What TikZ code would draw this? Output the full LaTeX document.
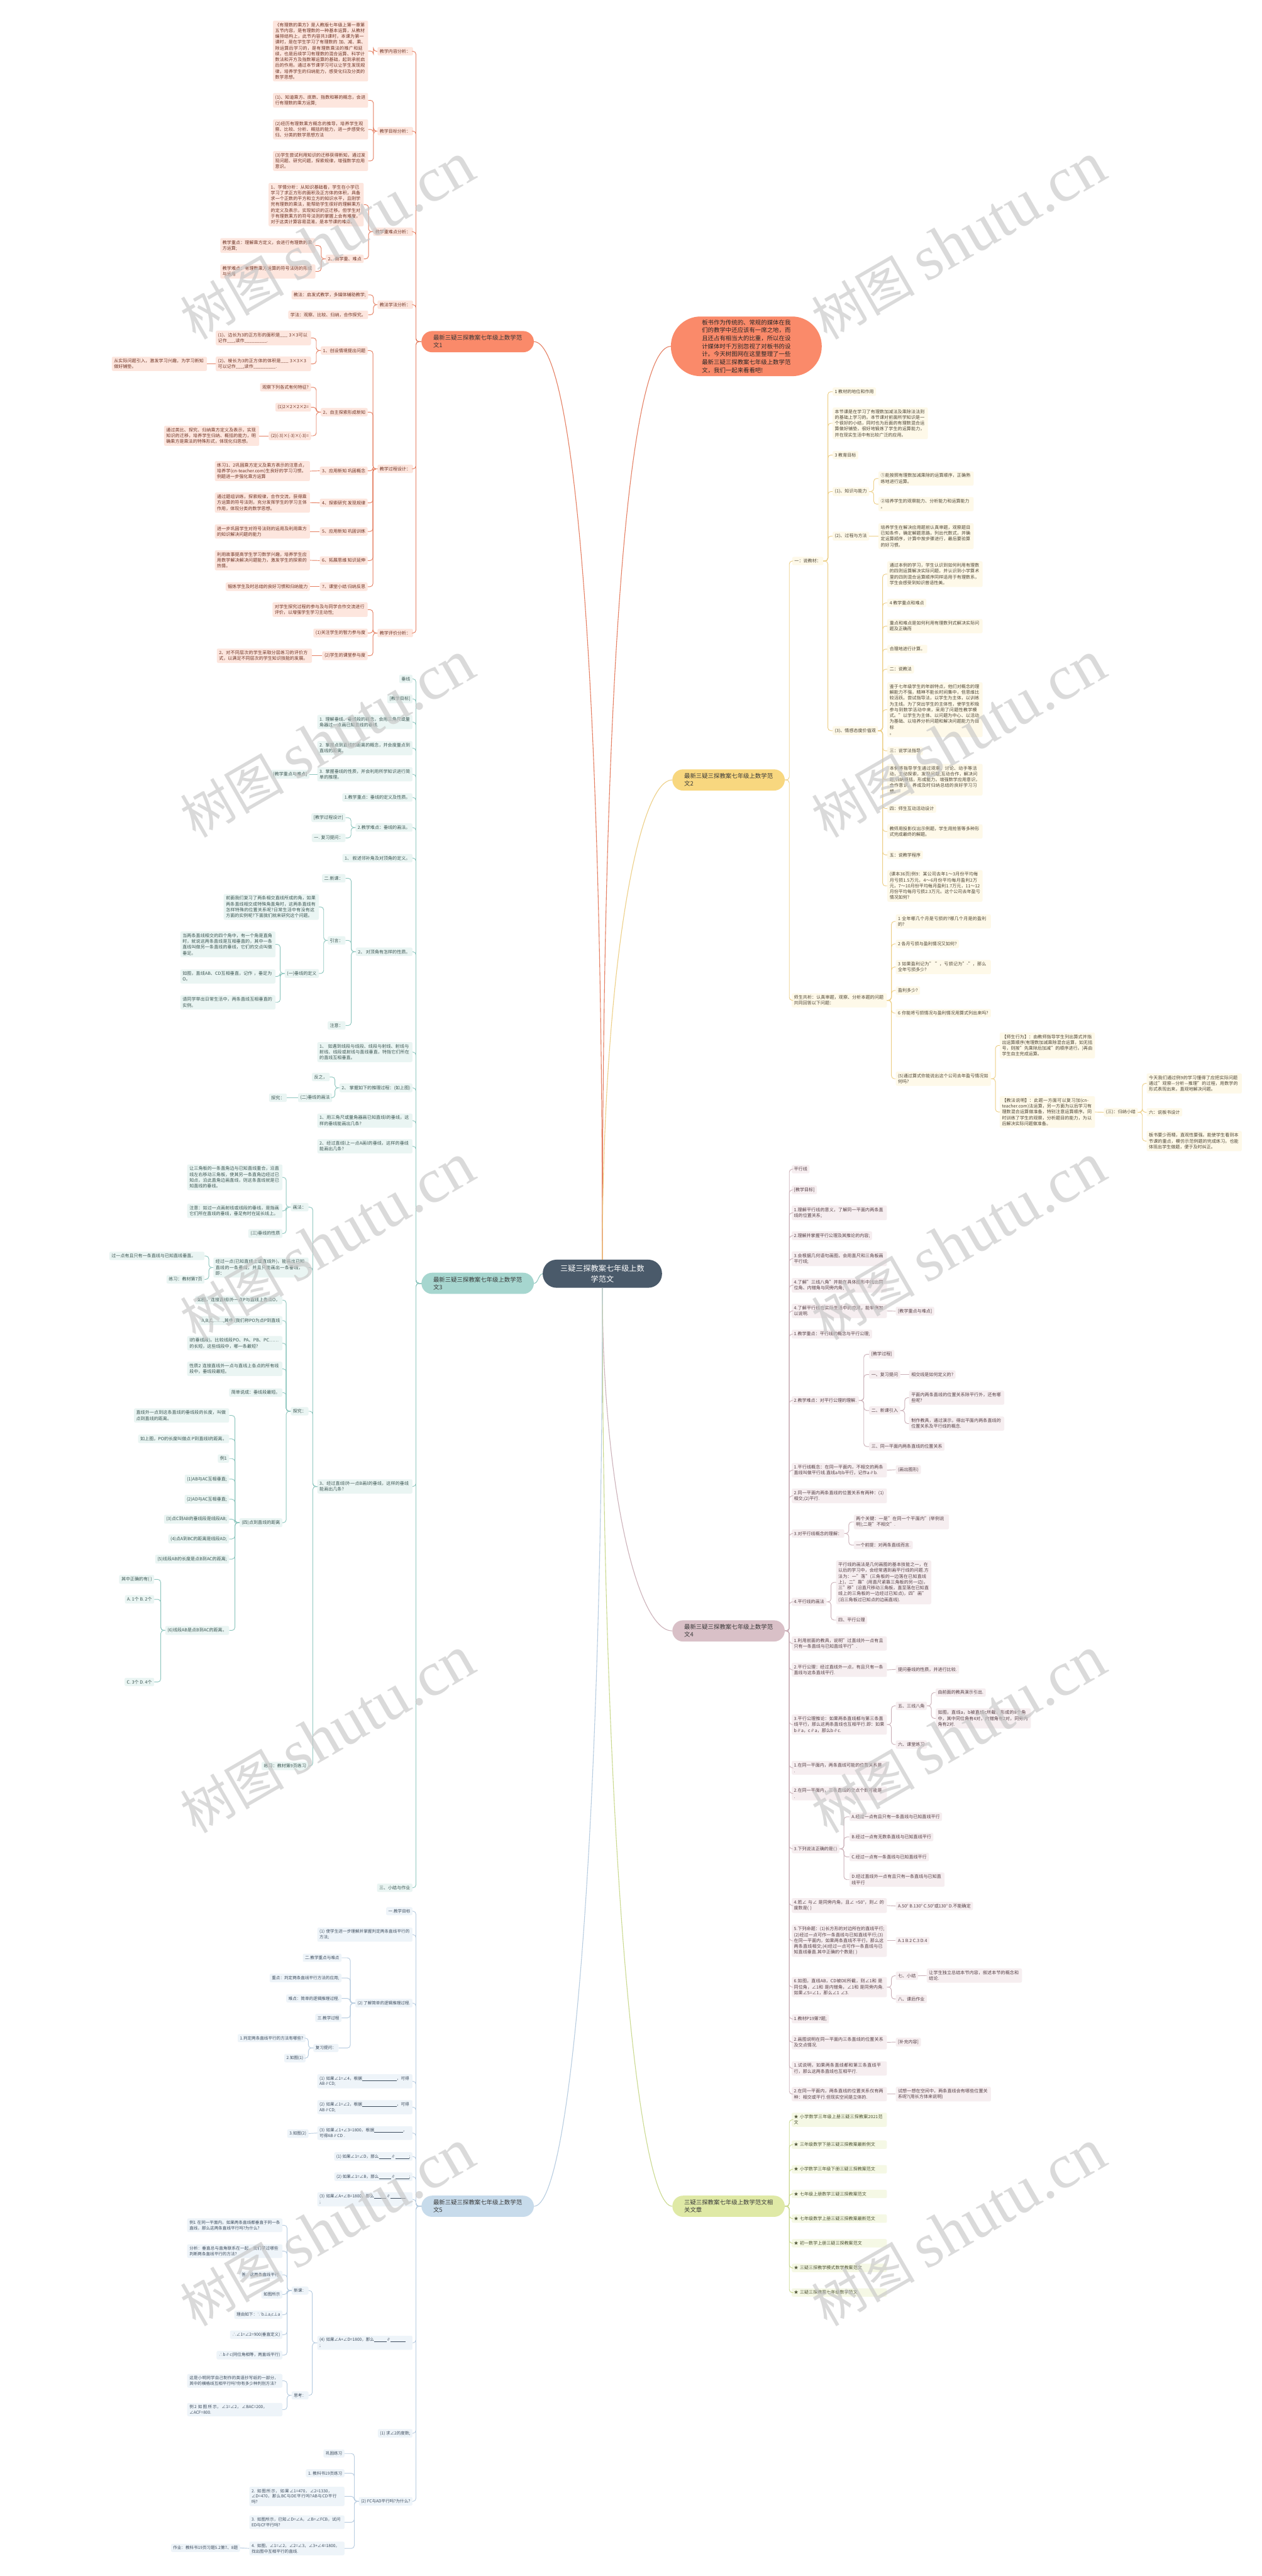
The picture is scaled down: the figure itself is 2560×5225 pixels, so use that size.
\documentclass[tikz,border=0pt]{standalone}
\usepackage{fontspec}
\setmainfont{Noto Sans CJK SC}
\newfontfamily\wmlat{Liberation Serif}
\XeTeXlinebreaklocale "zh"
\XeTeXlinebreakskip=0pt plus 1pt
\newcommand{\blk}[1]{\rule[-1.2pt]{#1pt}{0.5pt}}

\definecolor{rootc}{HTML}{4A5A6A}
\definecolor{omain}{HTML}{FA8A6A}
\definecolor{ofill}{HTML}{FDE6DE}
\definecolor{oline}{HTML}{E57F62}
\definecolor{otext}{HTML}{6E3324}
\definecolor{ymain}{HTML}{F8D77F}
\definecolor{yfill}{HTML}{FEF9E9}
\definecolor{yline}{HTML}{EDCF86}
\definecolor{ytext}{HTML}{4D4535}
\definecolor{tmain}{HTML}{A6D6CF}
\definecolor{tfill}{HTML}{EAF5F3}
\definecolor{tline}{HTML}{8FC7BF}
\definecolor{ttext}{HTML}{3C5652}
\definecolor{pmain}{HTML}{D9C0C7}
\definecolor{pfill}{HTML}{F6EEF0}
\definecolor{pline}{HTML}{CCB1B9}
\definecolor{ptext}{HTML}{553F45}
\definecolor{bmain}{HTML}{C7DBEB}
\definecolor{bfill}{HTML}{EEF4F9}
\definecolor{bline}{HTML}{B7CCE0}
\definecolor{btext}{HTML}{3E4D5E}
\definecolor{gmain}{HTML}{DFE9A6}
\definecolor{gfill}{HTML}{F5F8E5}
\definecolor{gline}{HTML}{CAD98F}
\definecolor{gtext}{HTML}{4A5030}

\tikzset{
  lf/.style={rounded corners=3pt, align=left, inner xsep=4.5pt, inner ysep=4.3pt, font=\fontsize{9}{11.8}\selectfont},
  wd/.style={text width=184pt},
  lft/.style={anchor=east},
  rgt/.style={anchor=west},
  oleaf/.style={lf, fill=ofill, text=otext},
  yleaf/.style={lf, fill=yfill, text=ytext},
  tleaf/.style={lf, fill=tfill, text=ttext},
  pleaf/.style={lf, fill=pfill, text=ptext},
  bleaf/.style={lf, fill=bfill, text=btext, font=\fontsize{8.4}{11.4}\selectfont},
  gleaf/.style={lf, fill=gfill, text=gtext},
  mnode/.style={rounded corners=21.5pt, minimum width=228pt, minimum height=43pt, inner xsep=0pt, align=left, font=\fontsize{12}{15.4}\selectfont, text=black!78},
  lnk/.style={line width=1.2pt, rounded corners=6pt},
  olink/.style={lnk, draw=oline},
  ylink/.style={lnk, draw=yline},
  tlink/.style={lnk, draw=tline},
  plink/.style={lnk, draw=pline},
  blink/.style={lnk, draw=bline},
  glink/.style={lnk, draw=gline},
  wm/.style={rotate=30, text=black!22, opacity=0.65, font=\fontsize{105}{105}\selectfont},
}

\begin{document}
\begin{tikzpicture}[x=1pt,y=-1pt]
\fill[white] (0,0) rectangle (2560,5225);
\useasboundingbox (0,0) rectangle (2560,5225);

% centre and intro
\node[fill=rootc, text=white, rounded corners=28pt, minimum width=242pt, minimum height=57pt, align=center, font=\fontsize{15.5}{21}\selectfont] (root) at (1222,2583.5) {三疑三探教案七年级上数\\学范文};
\node[fill=omain, text=black!85, rounded corners=60pt, minimum width=306pt, minimum height=121pt, align=left, font=\fontsize{12}{16.1}\selectfont] (intro) at (1514,702.5) {板书作为传统的、常规的媒体在我\\们的教学中还应该有一席之地，而\\且还占有相当大的比重，所以在设\\计媒体时千万别忽视了对板书的设\\计。今天树图网在这里整理了一些\\最新三疑三探教案七年级上数学范\\文，我们一起来看看吧!};

% ---------------- branch 1
\node[mnode, fill=omain] (o) at (969,693) {最新三疑三探教案七年级上数学范\\文1};
\node[oleaf, lft] (o1) at (838,104) {教学内容分析：};
\node[oleaf, lft] (o2) at (838,266) {教学目标分析：};
\node[oleaf, lft] (o3) at (838,470) {教学重难点分析：};
\node[oleaf, lft] (o4) at (838,618) {教法学法分析：};
\node[oleaf, lft] (o5) at (838,951) {教学过程设计：};
\node[oleaf, lft] (o6) at (838,1284) {教学评价分析：};
\node[oleaf, lft, wd] (o1a) at (747,103.5) {《有理数的乘方》是人教版七年级上第一章第五节内容，是有理数的一种基本运算，从教材编排结构上，此节内容共3课时，本课为第一课时，是在学生学习了有理数的 加、减、乘、除运算后学习的，是有理数乘法的推广和延续，也是后续学习有理数的混合运算、科学计数法和开方及指数幂运算的基础，起到承前启后的作用。通过本节课学习可以让学生发现规律，培养学生的归纳能力，感受化归及分类的数学思想。};
\node[oleaf, lft, wd] (o2a) at (747,203.5) {(1)、知道乘方、底数、指数和幂的概念，会进行有理数的乘方运算;};
\node[oleaf, lft, wd] (o2b) at (747,262.5) {(2)经历有理数乘方概念的推导，培养学生观察、比较、分析、概括的能力，进一步感受化归、分类的数学思想方法};
\node[oleaf, lft, wd] (o2c) at (747,326.5) {(3)学生尝试利用知识的迁移获得新知，通过发现问题、研究问题，探索规律，增强数学应用意识。};
\node[oleaf, lft, wd] (o3a) at (738,415) {1、学情分析：从知识基础看，学生在小学已学习了求正方形的面积及正方体的体积，具备求一个正数的平方和立方的知识水平，且刚学完有理数的乘法，能帮助学生很好的理解乘方的定义及表示，实现知识的正迁移。但学生对于有理数乘方的符号法则的掌握上会有难度，对于这类计算容易混淆，是本节课的难点。};
\node[oleaf, lft] (o3b) at (738,525) {2、教学重、难点};
\node[oleaf, lft, wd] (o3b1) at (640,498) {教学重点：理解乘方定义，会进行有理数的乘方运算;};
\node[oleaf, lft, wd] (o3b2) at (640,550.5) {教学难点：有理数乘方运算的符号法则的形成与运用};
\node[oleaf, lft] (o4a) at (747,598) {教法：启发式教学，多媒体辅助教学;};
\node[oleaf, lft] (o4b) at (747,638.5) {学法：观察、比较、归纳，合作探究。};
\node[oleaf, lft] (o5a) at (746,711) {1、创设情境提出问题};
\node[oleaf, lft, wd] (o5a1) at (631,685.5) {(1)、边长为3的正方形的面积是\_\_\_ 3×3可以记作\_\_\_,读作\_\_\_\_\_\_\_\_\_.};
\node[oleaf, lft, wd] (o5a2) at (631,738) {(2)、棱长为3的正方体的体积是\_\_\_ 3×3×3可以记作\_\_\_,读作\_\_\_\_\_\_\_\_\_.};
\node[oleaf, lft, wd] (o5a3) at (420,738) {从实际问题引入，激发学习兴趣，为学习新知做好铺垫。};
\node[oleaf, lft] (o5b) at (746,836) {2、自主探索形成新知};
\node[oleaf, lft] (o5b1) at (631,785.5) {观察下列各式有何特征?};
\node[oleaf, lft] (o5b2) at (631,826) {(1)2×2×2×2=};
\node[oleaf, lft] (o5b3) at (631,884) {(2)(-3)×(-3)×(-3)=};
\node[oleaf, lft, wd] (o5b4) at (526,884) {通过类比、探究、归纳乘方定义及表示，实现知识的迁移，培养学生归纳、概括的能力，明确乘方是乘法的特殊形式，体现化归思想。};
\node[oleaf, lft] (o5c) at (746,955) {3、应用新知 巩固概念};
\node[oleaf, lft, wd] (o5c1) at (629,955.5) {练习1、2巩固乘方定义及乘方表示的注意点，培养学(cn-teacher.com)生良好的学习习惯。例题进一步强化乘方运算};
\node[oleaf, lft] (o5d) at (746,1020) {4、探索研究 发现规律};
\node[oleaf, lft, wd] (o5d1) at (629,1019.5) {通过题组训练，探索规律，合作交流，获得乘方运算的符号法则，充分发挥学生的学习主体作用，体现分类的数学思想。};
\node[oleaf, lft] (o5e) at (746,1078) {5、应用新知 巩固训练};
\node[oleaf, lft, wd] (o5e1) at (629,1078) {进一步巩固学生对符号法则的运用及利用乘方的知识解决问题的能力};
\node[oleaf, lft] (o5f) at (746,1137) {6、拓展思维 知识延伸};
\node[oleaf, lft, wd] (o5f1) at (629,1136.5) {利用故事提高学生学习数学兴趣，培养学生应用数学解决解决问题能力，激发学生的探索的热情。};
\node[oleaf, lft] (o5g) at (746,1190) {7、课堂小结 归纳反思};
\node[oleaf, lft] (o5g1) at (629,1190) {锻炼学生及时总结的良好习惯和归纳能力};
\node[oleaf, lft, wd] (o6a) at (746,1236.5) {对学生探究过程的参与及与同学合作交流进行评价，以增强学生学习主动性;};
\node[oleaf, lft] (o6b) at (746,1284) {(1)关注学生的智力参与度};
\node[oleaf, lft] (o6c) at (746,1330) {(2)学生的课堂参与度};
\node[oleaf, lft, wd] (o6c1) at (633,1330) {2、对不同层次的学生采取分层练习的评价方式，以满足不同层次的学生知识技能的发展。};

\foreach \c in {o1,o2,o3,o4,o5,o6} \draw[olink] (o.west) -- ++(-11,0) |- (\c.east);
\draw[olink] (o1.west) -- ++(-8,0) |- (o1a.east);
\foreach \c in {o2a,o2b,o2c} \draw[olink] (o2.west) -- ++(-8,0) |- (\c.east);
\foreach \c in {o3a,o3b} \draw[olink] (o3.west) -- ++(-9,0) |- (\c.east);
\foreach \c in {o3b1,o3b2} \draw[olink] (o3b.west) -- ++(-9,0) |- (\c.east);
\foreach \c in {o4a,o4b} \draw[olink] (o4.west) -- ++(-8,0) |- (\c.east);
\foreach \c in {o5a,o5b,o5c,o5d,o5e,o5f,o5g} \draw[olink] (o5.west) -- ++(-9,0) |- (\c.east);
\foreach \c in {o5a1,o5a2} \draw[olink] (o5a.west) -- ++(-9,0) |- (\c.east);
\draw[olink] (o5a2.west) -- (o5a3.east);
\foreach \c in {o5b1,o5b2,o5b3} \draw[olink] (o5b.west) -- ++(-9,0) |- (\c.east);
\draw[olink] (o5b3.west) -- (o5b4.east);
\draw[olink] (o5c.west) -- (o5c1.east);
\draw[olink] (o5d.west) -- (o5d1.east);
\draw[olink] (o5e.west) -- (o5e1.east);
\draw[olink] (o5f.west) -- (o5f1.east);
\draw[olink] (o5g.west) -- (o5g1.east);
\foreach \c in {o6a,o6b,o6c} \draw[olink] (o6.west) -- ++(-9,0) |- (\c.east);
\draw[olink] (o6c.west) -- (o6c1.east);

% ---------------- branch 2
\node[mnode, fill=ymain] (y) at (1478,1582) {最新三疑三探教案七年级上数学范\\文2};
\node[yleaf, rgt] (y1) at (1607,1138) {一：说教材：};
\node[yleaf, rgt] (y1a) at (1689,794.5) {1 教材的地位和作用};
\node[yleaf, rgt, wd] (y1b) at (1689,858.5) {本节课是在学习了有理数加减法及乘除法法则的基础上学习的。本节课对前面所学知识是一个很好的小结，同时也为后面的有理数混合运算做好铺垫，很好地锻炼了学生的运算能力，并在现实生活中有比较广泛的应用。};
\node[yleaf, rgt] (y1c) at (1689,923) {3 教育目标};
\node[yleaf, rgt] (y1d) at (1689,997) {(1)、知识与能力};
\node[yleaf, rgt, wd] (y1d1) at (1782,970.5) {①能按照有理数加减乘除的运算顺序，正确熟练地进行运算。};
\node[yleaf, rgt, wd] (y1d2) at (1782,1022.5) {②培养学生的观察能力、分析能力和运算能力\\。};
\node[yleaf, rgt] (y1e) at (1689,1087.5) {(2)、过程与方法};
\node[yleaf, rgt, wd] (y1e1) at (1782,1087.5) {培养学生在解决应用题前认真审题，观察题目已知条件，确定解题思路，列出代数式，并确定运算顺序，计算中按步骤进行，最后要验算的好习惯。};
\node[yleaf, rgt] (y1f) at (1689,1482) {(3)、情感态度价值观};
\node[yleaf, rgt, wd] (y1f1) at (1800,1164.5) {通过本例的学习，学生认识到如何利用有理数的四则运算解决实际问题，并认识到小学算术里的四则混合运算顺序同样适用于有理数系，学生会感受到知识普适性美。};
\node[yleaf, rgt] (y1f2) at (1800,1223) {4 教学重点和难点};
\node[yleaf, rgt, wd] (y1f3) at (1800,1270) {重点和难点是如何利用有理数列式解决实际问题及正确而};
\node[yleaf, rgt] (y1f4) at (1800,1316.5) {合理地进行计算。};
\node[yleaf, rgt] (y1f5) at (1800,1357.5) {二：说教法};
\node[yleaf, rgt, wd] (y1f6) at (1800,1439.5) {鉴于七年级学生的年龄特点，他们对概念的理解能力不强，精神不能长时间集中，但思维比较活跃。尝试指导法，以学生为主体，以训练为主线。为了突出学生的主体性，使学生积极参与到数学活动中来，采用了问题性教学模式。"以学生为主体、以问题为中心、以活动为基础、以培养分析问题和解决问题能力为目标\\。};
\node[yleaf, rgt] (y1f7) at (1800,1523) {三：说学法指导};
\node[yleaf, rgt, wd] (y1f8) at (1800,1581.5) {本例将指导学生通过观察、讨论、动手等活动，主动探索，发现问题;互动合作，解决问题;归纳概括，形成能力。增强数学应用意识，合作意识，养成及时归纳总结的良好学习习惯。};
\node[yleaf, rgt] (y1f9) at (1800,1640) {四：师生互动活动设计};
\node[yleaf, rgt, wd] (y1f10) at (1800,1686.5) {教师用投影仪出示例题，学生用抢答等多种形式完成最终的解题。};
\node[yleaf, rgt] (y1f11) at (1800,1734) {五：说教学程序};
\node[yleaf, rgt, wd] (y1f12) at (1800,1797) {(课本36页)例9：某公司去年1～3月份平均每月亏损1.5万元，4～6月份平均每月盈利2万元，7～10月份平均每月盈利1.7万元，11～12月份平均每月亏损2.3万元。这个公司去年盈亏情况如何?};
\node[yleaf, rgt, wd] (y2) at (1606,2029) {师生共析：认真审题，观察、分析本题的问题共同回答以下问题：};
\node[yleaf, rgt, wd] (y2a) at (1817,1869) {1 全年哪几个月是亏损的?哪几个月是的盈利的?};
\node[yleaf, rgt] (y2b) at (1817,1914.5) {2 各月亏损与盈利情况又如何?};
\node[yleaf, rgt, wd] (y2c) at (1817,1961.5) {3 如果盈利记为" "，亏损记为"-"，那么全年亏损多少?};
\node[yleaf, rgt] (y2d) at (1817,2009) {盈利多少?};
\node[yleaf, rgt, wd] (y2e) at (1817,2055) {6 你能将亏损情况与盈利情况用算式列出来吗?};
\node[yleaf, rgt, wd] (y2f) at (1817,2188) {(5)通过算式你能说出这个公司去年盈亏情况如何吗?};
\node[yleaf, rgt, wd] (y2f1) at (2028,2120.5) {【师生行为】：由教师指导学生列出算式并指出运算顺序(有理数加减乘除混合运算，如无括号，则按"先乘除后加减"的顺序进行。)再由学生自主完成运算。};
\node[yleaf, rgt, wd] (y2f2) at (2028,2255.5) {【教法说明】：此题一方面可以复习加(cn-teacher.com)法运算，另一方面为以后学习有理数混合运算做准备，特别注意运算顺序。同时训练了学生的观察，分析题目的能力，为以后解决实际问题做准备。};
\node[yleaf, rgt] (y2g) at (2239,2256) {(三)：归纳小结};
\node[yleaf, rgt, wd] (y2g1) at (2326,2197.5) {今天我们通过例9的学习懂得了应把实际问题通过"观察—分析—推理"的过程，用数学的形式表现出来，直观地解决问题。};
\node[yleaf, rgt] (y2g2) at (2326,2256) {六：说板书设计};
\node[yleaf, rgt, wd] (y2g3) at (2326,2314.5) {板书要少而精，直观性要强。能使学生看到本节课的重点，模仿示范例题的完成练习。也能体现出学生做题，便于及时纠正。};

\foreach \c in {y1,y2} \draw[ylink] (y.east) -- ++(9,0) |- (\c.west);
\foreach \c in {y1a,y1b,y1c,y1d,y1e,y1f} \draw[ylink] (y1.east) -- ++(9,0) |- (\c.west);
\foreach \c in {y1d1,y1d2} \draw[ylink] (y1d.east) -- ++(9,0) |- (\c.west);
\draw[ylink] (y1e.east) -- (y1e1.west);
\foreach \c in {y1f1,y1f2,y1f3,y1f4,y1f5,y1f6,y1f7,y1f8,y1f9,y1f10,y1f11,y1f12} \draw[ylink] (y1f.east) -- ++(9,0) |- (\c.west);
\foreach \c in {y2a,y2b,y2c,y2d,y2e,y2f} \draw[ylink] (y2.east) -- ++(9,0) |- (\c.west);
\foreach \c in {y2f1,y2f2} \draw[ylink] (y2f.east) -- ++(9,0) |- (\c.west);
\draw[ylink] (y2f2.east) -- (y2g.west);
\foreach \c in {y2g1,y2g2,y2g3} \draw[ylink] (y2g.east) -- ++(9,0) |- (\c.west);

% ---------------- branch 3
\node[mnode, fill=tmain] (t) at (969,2603) {最新三疑三探教案七年级上数学范\\文3};
\node[tleaf, lft] (t1) at (837,1377) {垂线};
\node[tleaf, lft] (t2) at (837,1417.5) {[教学目标]};
\node[tleaf, lft, wd] (t3) at (837,1464.5) {1. 理解垂线、垂线段的概念，会用三角尺或量角器过一点画已知直线的垂线.};
\node[tleaf, lft, wd] (t4) at (837,1517.5) {2. 掌握点到直线的距离的概念，并会度量点到直线的距离。};
\node[tleaf, lft, wd] (t5) at (837,1570.5) {3. 掌握垂线的性质，并会利用所学知识进行简单的推理。};
\node[tleaf, lft] (t5a) at (628,1570.5) {[教学重点与难点]};
\node[tleaf, lft] (t6) at (837,1617.5) {1.教学重点：垂线的定义及性质。};
\node[tleaf, lft] (t7) at (837,1678.5) {2.教学难点：垂线的画法。};
\node[tleaf, lft] (t7a) at (701,1658.5) {[教学过程设计]};
\node[tleaf, lft] (t7b) at (701,1699.5) {一. 复习提问：};
\node[tleaf, lft] (t8) at (837,1740.5) {1、 叙述邻补角及对顶角的定义。};
\node[tleaf, lft] (t9) at (837,1930.5) {2、 对顶角有怎样的性质。};
\node[tleaf, lft] (t9a) at (701,1781.5) {二.新课：};
\node[tleaf, lft] (t9b) at (701,1907.5) {引言：};
\node[tleaf, lft, wd] (t9b1) at (647,1839.5) {前面我们复习了两条相交直线所成的角，如果两条直线相交成特殊角直角时，这两条直线有怎样特殊的位置关系呢?日常生活中有没有这方面的实例呢?下面我们就来研究这个问题。};
\node[tleaf, lft] (t9b2) at (647,1974.5) {(一)垂线的定义};
\node[tleaf, lft, wd] (t9b2a) at (559,1915.5) {当两条直线相交的四个角中，有一个角是直角时，就说这两条直线是互相垂直的，其中一条直线叫做另一条直线的垂线，它们的交点叫做垂足。};
\node[tleaf, lft, wd] (t9b2b) at (559,1980.5) {如图，直线AB、CD互相垂直，记作 ，垂足为O。};
\node[tleaf, lft, wd] (t9b2c) at (559,2033) {请同学举出日常生活中，两条直线互相垂直的实例。};
\node[tleaf, lft] (t9c) at (701,2080) {注意：};
\node[tleaf, lft, wd] (t10) at (837,2134) {1、 如遇到线段与线段、线段与射线、射线与射线、线段或射线与直线垂直，特指它们所在的直线互相垂直。};
\node[tleaf, lft] (t11) at (837,2206.5) {2、 掌握如下的推理过程：(如上图)};
\node[tleaf, lft] (t11a) at (669,2184.5) {反之，};
\node[tleaf, lft] (t11b) at (674,2226.5) {(二)垂线的画法};
\node[tleaf, lft] (t11c) at (582,2226.5) {探究：};
\node[tleaf, lft, wd] (t12) at (837,2273) {1、用三角尺或量角器画已知直线l的垂线，这样的垂线能画出几条?};
\node[tleaf, lft, wd] (t13) at (837,2325) {2、经过直线l上一点A画l的垂线，这样的垂线能画出几条?};
\node[tleaf, lft, wd] (t14) at (837,3015) {3、经过直线l外一点B画l的垂线，这样的垂线能画出几条?};
\node[tleaf, lft] (t14a) at (626,2448.5) {画法：};
\node[tleaf, lft, wd] (t14a1) at (573,2388) {让三角板的一条直角边与已知直线重合，沿直线左右移动三角板，使其另一条直角边经过已知点，沿此直角边画直线，则这条直线就是已知直线的垂线。};
\node[tleaf, lft, wd] (t14a2) at (573,2456) {注意：如过一点画射线或线段的垂线，是指画它们所在直线的垂线，垂足有时在延长线上。};
\node[tleaf, lft] (t14a3) at (573,2502) {(三)垂线的性质};
\node[tleaf, lft, wd] (t14b) at (626,2571) {经过一点(已知直线上或直线外)，能画出已知直线的一条垂线，并且只能画出一条垂线，即：};
\node[tleaf, lft, wd] (t14b1) at (415,2547.5) {过一点有且只有一条直线与已知直线垂直。};
\node[tleaf, lft] (t14b2) at (415,2595) {练习：教材第7页};
\node[tleaf, lft] (t14c) at (626,2862.5) {探究：};
\node[tleaf, lft] (t14c1) at (573,2637) {如图，连接直线l外一点P与直线上各点O，};
\node[tleaf, lft] (t14c2) at (573,2678.5) {A,B,C,……,其中 (我们称PO为点P到直线};
\node[tleaf, lft, wd] (t14c3) at (573,2724.5) {l的垂线段)。比较线段PO、PA、PB、PC……的长短，这些线段中，哪一条最短?};
\node[tleaf, lft, wd] (t14c4) at (573,2776.5) {性质2 连接直线外一点与直线上各点的所有线段中，垂线段最短。};
\node[tleaf, lft] (t14c5) at (573,2824.5) {简单说成：垂线段最短。};
\node[tleaf, lft] (t14c6) at (573,3088.5) {(四)点到直线的距离};
\node[tleaf, lft, wd] (t14d1) at (465,2871) {直线外一点到这条直线的垂线段的长度，叫做点到直线的距离。};
\node[tleaf, lft] (t14d2) at (465,2918.5) {如上图，PO的长度叫做点 P到直线l的距离。};
\node[tleaf, lft] (t14d3) at (465,2958.5) {例1};
\node[tleaf, lft] (t14d4) at (465,3000) {(1)AB与AC互相垂直;};
\node[tleaf, lft] (t14d5) at (465,3041) {(2)AD与AC互相垂直;};
\node[tleaf, lft] (t14d6) at (465,3081.5) {(3)点C到AB的垂线段是线段AB;};
\node[tleaf, lft] (t14d7) at (465,3121.5) {(4)点A到BC的距离是线段AD;};
\node[tleaf, lft] (t14d8) at (465,3162.5) {(5)线段AB的长度是点B到AC的距离;};
\node[tleaf, lft] (t14d9) at (465,3307) {(6)线段AB是点B到AC的距离。};
\node[tleaf, lft] (t14e1) at (313,3203.5) {其中正确的有( )};
\node[tleaf, lft] (t14e2) at (313,3244) {A. 1个 B. 2个};
\node[tleaf, lft] (t14e3) at (313,3411.5) {C. 3个 D. 4个};
\node[tleaf, lft] (t14f) at (626,3582) {练习：教材第9页练习};
\node[tleaf, lft] (t15) at (837,3829) {三、小结与作业};

\foreach \c in {t1,t2,t3,t4,t5,t6,t7,t8,t9,t10,t11,t12,t13,t14,t15} \draw[tlink] (t.west) -- ++(-11,0) |- (\c.east);
\draw[tlink] (t5.west) -- (t5a.east);
\foreach \c in {t7a,t7b} \draw[tlink] (t7.west) -- ++(-9,0) |- (\c.east);
\foreach \c in {t9a,t9b,t9c} \draw[tlink] (t9.west) -- ++(-9,0) |- (\c.east);
\foreach \c in {t9b1,t9b2} \draw[tlink] (t9b.west) -- ++(-8,0) |- (\c.east);
\foreach \c in {t9b2a,t9b2b,t9b2c} \draw[tlink] (t9b2.west) -- ++(-9,0) |- (\c.east);
\foreach \c in {t11a,t11b} \draw[tlink] (t11.west) -- ++(-9,0) |- (\c.east);
\draw[tlink] (t11b.west) -- (t11c.east);
\foreach \c in {t14a,t14b,t14c,t14f} \draw[tlink] (t14.west) -- ++(-9,0) |- (\c.east);
\foreach \c in {t14a1,t14a2,t14a3} \draw[tlink] (t14a.west) -- ++(-9,0) |- (\c.east);
\foreach \c in {t14b1,t14b2} \draw[tlink] (t14b.west) -- ++(-9,0) |- (\c.east);
\foreach \c in {t14c1,t14c2,t14c3,t14c4,t14c5,t14c6} \draw[tlink] (t14c.west) -- ++(-9,0) |- (\c.east);
\foreach \c in {t14d1,t14d2,t14d3,t14d4,t14d5,t14d6,t14d7,t14d8,t14d9} \draw[tlink] (t14c6.west) -- ++(-9,0) |- (\c.east);
\foreach \c in {t14e1,t14e2,t14e3} \draw[tlink] (t14d9.west) -- ++(-9,0) |- (\c.east);

% ---------------- branch 4
\node[mnode, fill=pmain] (p) at (1478,3308) {最新三疑三探教案七年级上数学范\\文4};
\node[pleaf, rgt] (p1) at (1606,2371.5) {平行线};
\node[pleaf, rgt] (p2) at (1606,2413.5) {[教学目标]};
\node[pleaf, rgt, wd] (p3) at (1606,2460) {1.理解平行线的意义，了解同一平面内两条直线的位置关系;};
\node[pleaf, rgt] (p4) at (1606,2506.5) {2.理解并掌握平行公理及其推论的内容;};
\node[pleaf, rgt, wd] (p5) at (1606,2553) {3.会根据几何语句画图，会用直尺和三角板画平行线;};
\node[pleaf, rgt, wd] (p6) at (1606,2607) {4.了解"三线八角"并能在具体图形中找出同位角、内错角与同旁内角;};
\node[pleaf, rgt, wd] (p7) at (1606,2659) {4.了解平行线在实际生活中的应用，能举例加以说明.};
\node[pleaf, rgt] (p7a) at (1817,2659.5) {[教学重点与难点]};
\node[pleaf, rgt] (p8) at (1606,2706) {1.教学重点：平行线的概念与平行公理;};
\node[pleaf, rgt] (p9) at (1606,2840.5) {2.教学难点：对平行公理的理解.};
\node[pleaf, rgt] (p9a) at (1763,2747) {[教学过程]};
\node[pleaf, rgt] (p9b) at (1763,2788) {一、复习提问};
\node[pleaf, rgt] (p9b1) at (1844,2788) {相交线是如何定义的?};
\node[pleaf, rgt] (p9c) at (1763,2861) {二、新课引入};
\node[pleaf, rgt, wd] (p9c1) at (1844,2835) {平面内两条直线的位置关系除平行外，还有哪些呢?};
\node[pleaf, rgt, wd] (p9c2) at (1844,2887.5) {制作教具，通过演示，得出平面内两条直线的位置关系及平行线的概念.};
\node[pleaf, rgt] (p9d) at (1763,2934) {三、同一平面内两条直线的位置关系};
\node[pleaf, rgt, wd] (p10) at (1606,2982) {1.平行线概念：在同一平面内，不相交的两条直线叫做平行线.直线a与b平行，记作a∥b.};
\node[pleaf, rgt] (p10a) at (1817,2981) {(画出图形)};
\node[pleaf, rgt, wd] (p11) at (1606,3034) {2.同一平面内两条直线的位置关系有两种：(1)相交;(2)平行.};
\node[pleaf, rgt] (p12) at (1606,3110.5) {3.对平行线概念的理解：};
\node[pleaf, rgt, wd] (p12a) at (1732,3087) {两个关键：一是"在同一个平面内"(举例说明);二是"不相交".};
\node[pleaf, rgt] (p12b) at (1732,3134) {一个前提：对两条直线而言.};
\node[pleaf, rgt] (p13) at (1606,3249) {4.平行线的画法};
\node[pleaf, rgt, wd] (p13a) at (1696,3209.5) {平行线的画法是几何画图的基本技能之一，在以后的学习中，会经常遇到画平行线的问题.方法为：一"落"(三角板的一边落在已知直线上)，二"靠"(用直尺紧靠三角板的另一边)，三"移"(沿直尺移动三角板，直至落在已知直线上的三角板的一边经过已知点)，四"画"(沿三角板过已知点的边画直线).};
\node[pleaf, rgt] (p13b) at (1696,3286) {四、平行公理};
\node[pleaf, rgt, wd] (p14) at (1606,3333.5) {1.利用前面的教具，说明"过直线外一点有且只有一条直线与已知直线平行".};
\node[pleaf, rgt, wd] (p15) at (1606,3387) {2.平行公理：经过直线外一点，有且只有一条直线与这条直线平行.};
\node[pleaf, rgt] (p15a) at (1817,3386) {提问垂线的性质，并进行比较.};
\node[pleaf, rgt, wd] (p16) at (1606,3498) {3.平行公理推论：如果两条直线都与第三条直线平行，那么这两条直线也互相平行.即：如果b∥a，c∥a，那么b∥c.};
\node[pleaf, rgt] (p16a) at (1817,3460) {五、三线八角};
\node[pleaf, rgt] (p16a1) at (1898,3433) {由前面的教具演示引出.};
\node[pleaf, rgt, wd] (p16a2) at (1898,3485.5) {如图，直线a，b被直线c所截，形成的8个角中，其中同位角有4对，内错角有2对，同旁内角有2对.};
\node[pleaf, rgt] (p16b) at (1817,3538.5) {六、课堂练习};
\node[pleaf, rgt, wd] (p17) at (1606,3585.5) {1.在同一平面内，两条直线可能的位置关系是\\.};
\node[pleaf, rgt, wd] (p18) at (1606,3637.5) {2.在同一平面内，三条直线的交点个数可能是\\.};
\node[pleaf, rgt] (p19) at (1606,3750) {3.下列说法正确的是( )};
\node[pleaf, rgt] (p19a) at (1723,3685) {A.经过一点有且只有一条直线与已知直线平行};
\node[pleaf, rgt] (p19b) at (1723,3726) {B.经过一点有无数条直线与已知直线平行};
\node[pleaf, rgt] (p19c) at (1723,3766.5) {C.经过一点有一条直线与已知直线平行};
\node[pleaf, rgt, wd] (p19d) at (1723,3812.5) {D.经过直线外一点有且只有一条直线与已知直线平行};
\node[pleaf, rgt, wd] (p20) at (1606,3865) {4.若∠ 与∠ 是同旁内角，且∠ =50°，则∠ 的度数是( )};
\node[pleaf, rgt] (p20a) at (1817,3866) {A.50° B.130° C.50°或130° D.不能确定};
\node[pleaf, rgt, wd] (p21) at (1606,3936.5) {5.下列命题：(1)长方形的对边所在的直线平行;(2)经过一点可作一条直线与已知直线平行;(3)在同一平面内，如果两条直线不平行，那么这两条直线相交;(4)经过一点可作一条直线与已知直线垂直.其中正确的个数是( )};
\node[pleaf, rgt] (p21a) at (1817,3936.5) {A.1 B.2 C.3 D.4};
\node[pleaf, rgt, wd] (p22) at (1606,4030.5) {6.如图，直线AB，CD被DE所截，则∠1和 是同位角，∠1和 是内错角，∠1和 是同旁内角.如果∠5=∠1，那么∠1 ∠3.};
\node[pleaf, rgt] (p22a) at (1817,4007.5) {七、小结};
\node[pleaf, rgt, wd] (p22a1) at (1880,4007) {让学生独立总结本节内容，叙述本节的概念和结论.};
\node[pleaf, rgt] (p22b) at (1817,4054.5) {八、课后作业};
\node[pleaf, rgt] (p23) at (1606,4095) {1.教材P19第7题;};
\node[pleaf, rgt, wd] (p24) at (1606,4142.5) {2.画图说明在同一平面内三条直线的位置关系及交点情况.};
\node[pleaf, rgt] (p24a) at (1817,4142) {[补充内容]};
\node[pleaf, rgt, wd] (p25) at (1606,4195.5) {1.试说明，如果两条直线都和第三条直线平行，那么这两条直线也互相平行.};
\node[pleaf, rgt, wd] (p26) at (1606,4247.5) {2.在同一平面内，两条直线的位置关系仅有两种：相交或平行.但现实空间是立体的.};
\node[pleaf, rgt, wd] (p26a) at (1817,4247.5) {试想一想在空间中，两条直线会有哪些位置关系呢?(用长方体来说明)};

\foreach \c in {p1,p2,p3,p4,p5,p6,p7,p8,p9,p10,p11,p12,p13,p14,p15,p16,p17,p18,p19,p20,p21,p22,p23,p24,p25,p26} \draw[plink] (p.east) -- ++(9,0) |- (\c.west);
\draw[plink] (p7.east) -- (p7a.west);
\foreach \c in {p9a,p9b,p9c,p9d} \draw[plink] (p9.east) -- ++(10,0) |- (\c.west);
\draw[plink] (p9b.east) -- (p9b1.west);
\foreach \c in {p9c1,p9c2} \draw[plink] (p9c.east) -- ++(9,0) |- (\c.west);
\draw[plink] (p10.east) -- (p10a.west);
\foreach \c in {p12a,p12b} \draw[plink] (p12.east) -- ++(9,0) |- (\c.west);
\foreach \c in {p13a,p13b} \draw[plink] (p13.east) -- ++(9,0) |- (\c.west);
\draw[plink] (p15.east) -- (p15a.west);
\foreach \c in {p16a,p16b} \draw[plink] (p16.east) -- ++(9,0) |- (\c.west);
\foreach \c in {p16a1,p16a2} \draw[plink] (p16a.east) -- ++(9,0) |- (\c.west);
\foreach \c in {p19a,p19b,p19c,p19d} \draw[plink] (p19.east) -- ++(9,0) |- (\c.west);
\draw[plink] (p20.east) -- (p20a.west);
\draw[plink] (p21.east) -- (p21a.west);
\foreach \c in {p22a,p22b} \draw[plink] (p22.east) -- ++(9,0) |- (\c.west);
\draw[plink] (p22a.east) -- (p22a1.west);
\draw[plink] (p24.east) -- (p24a.west);
\draw[plink] (p26.east) -- (p26a.west);

% ---------------- branch 6
\node[mnode, fill=gmain] (g) at (1478,4475) {三疑三探教案七年级上数学范文相\\关文章};
\node[gleaf, rgt, wd] (g1) at (1606,4299.5) {★ 小学数学三年级上册三疑三探教案2021范文};
\node[gleaf, rgt, wd] (g2) at (1606,4350) {★ 三年级数学下册三疑三探教案最新例文};
\node[gleaf, rgt, wd] (g3) at (1606,4400) {★ 小学数学三年级下册三疑三探教案范文};
\node[gleaf, rgt, wd] (g4) at (1606,4450) {★ 七年级上册数学三疑三探教案范文};
\node[gleaf, rgt, wd] (g5) at (1606,4500) {★ 七年级数学上册三疑三探教案最新范文};
\node[gleaf, rgt, wd] (g6) at (1606,4550) {★ 初一数学上册三疑三探教案范文};
\node[gleaf, rgt, wd] (g7) at (1606,4600) {★ 三疑三探教学模式数学教案范文};
\node[gleaf, rgt, wd] (g8) at (1606,4650) {★ 三疑三探教案七年级数学范文};
\foreach \c in {g1,g2,g3,g4,g5,g6,g7,g8} \draw[glink] (g.east) -- ++(9,0) |- (\c.west);

% ---------------- branch 5
\node[mnode, fill=bmain] (b) at (969,4475) {最新三疑三探教案七年级上数学范\\文5};
\node[bleaf, lft] (b1) at (837,3876.5) {一.教学目标};
\node[bleaf, lft, wd] (b2) at (837,3924) {(1) 使学生进一步理解并掌握判定两条直线平行的方法;};
\node[bleaf, lft] (b3) at (837,4063) {(2) 了解简单的逻辑推理过程.};
\node[bleaf, lft] (b3a) at (693,3971) {二.教学重点与难点};
\node[bleaf, lft] (b3b) at (693,4012) {重点：判定两条直线平行方法的应用;};
\node[bleaf, lft] (b3c) at (693,4053.5) {难点：简单的逻辑推理过程.};
\node[bleaf, lft] (b3d) at (693,4093) {三.教学过程};
\node[bleaf, lft] (b3e) at (687,4154) {复习提问：};
\node[bleaf, lft] (b3e1) at (620,4134) {1.判定两条直线平行的方法有哪些?};
\node[bleaf, lft] (b3e2) at (620,4174.5) {2.如图(1)};
\node[bleaf, lft, wd] (b4) at (837,4221.5) {(1) 如果∠1=∠4，根据\blk{70}，可得AB∥CD;};
\node[bleaf, lft, wd] (b5) at (837,4274) {(2) 如果∠1=∠2，根据\blk{70}，可得AB∥CD;};
\node[bleaf, lft, wd] (b6) at (837,4326.5) {(3) 如果∠1+∠3=1800，根据\blk{58}，可得AB∥CD .};
\node[bleaf, lft] (b6a) at (626,4327.5) {3.如图(2)};
\node[bleaf, lft] (b7) at (837,4374) {(1) 如果∠1=∠D，那么\blk{25}∥\blk{28};};
\node[bleaf, lft] (b8) at (837,4415) {(2) 如果∠1=∠B，那么\blk{25}∥\blk{28};};
\node[bleaf, lft, wd] (b9) at (837,4461) {(3) 如果∠A+∠B=1800，那么\blk{25}∥\blk{30}\\;};
\node[bleaf, lft, wd] (b10) at (837,4752) {(4) 如果∠A+∠D=1800，那么\blk{25}∥\blk{30}\\;};
\node[bleaf, lft] (b10a) at (626,4646) {新课：};
\node[bleaf, lft, wd] (b10a1) at (573,4513.5) {例1 在同一平面内，如果两条直线都垂直于同一条直线，那么这两条直线平行吗?为什么?};
\node[bleaf, lft, wd] (b10a2) at (573,4566) {分析：垂直总与直角联系在一起，我们学过哪些判断两条直线平行的方法?};
\node[bleaf, lft] (b10a3) at (573,4614) {答：这两条直线平行.};
\node[bleaf, lft] (b10a4) at (573,4654) {如图所示};
\node[bleaf, lft] (b10a5) at (573,4695) {理由如下：∵b⊥a,c⊥a};
\node[bleaf, lft] (b10a6) at (573,4735.5) {∴∠1=∠2=900(垂直定义)};
\node[bleaf, lft] (b10a7) at (573,4777) {∴b∥c(同位角相等，两直线平行)};
\node[bleaf, lft] (b10b) at (626,4858.5) {思考：};
\node[bleaf, lft, wd] (b10b1) at (573,4829) {这是小明同学自己制作的英语抄写纸的一部分，其中的横格线互相平行吗?你有多少种判别方法?};
\node[bleaf, lft, wd] (b10b2) at (573,4887.5) {例2 如图所示，∠1=∠2，∠BAC=200，∠ACF=800.};
\node[bleaf, lft] (b11) at (837,4935.5) {(1) 求∠2的度数;};
\node[bleaf, lft] (b12) at (837,5073.5) {(2) FC与AD平行吗?为什么?};
\node[bleaf, lft] (b12a) at (699,4976.5) {巩固练习};
\node[bleaf, lft] (b12b) at (699,5016.5) {1. 教科书19页练习};
\node[bleaf, lft, wd] (b12c) at (699,5063.5) {2. 如图所示，如果∠1=470，∠2=1330，∠D=470，那么BC与DE平行吗?AB与CD平行吗?};
\node[bleaf, lft, wd] (b12d) at (699,5116) {3. 如图所示，已知∠D=∠A，∠B=∠FCB，试问ED与CF平行吗?};
\node[bleaf, lft, wd] (b12e) at (699,5169) {4. 如图，∠1=∠2，∠2=∠3，∠3+∠4=1800，找出图中互相平行的直线.};
\node[bleaf, lft] (b12e1) at (487,5168) {作业：教科书19页习题5.2第7、8题};

\foreach \c in {b1,b2,b3,b4,b5,b6,b7,b8,b9,b10,b11,b12} \draw[blink] (b.west) -- ++(-11,0) |- (\c.east);
\foreach \c in {b3a,b3b,b3c,b3d,b3e} \draw[blink] (b3.west) -- ++(-10,0) |- (\c.east);
\foreach \c in {b3e1,b3e2} \draw[blink] (b3e.west) -- ++(-10,0) |- (\c.east);
\draw[blink] (b6.west) -- (b6a.east);
\foreach \c in {b10a,b10b} \draw[blink] (b10.west) -- ++(-10,0) |- (\c.east);
\foreach \c in {b10a1,b10a2,b10a3,b10a4,b10a5,b10a6,b10a7} \draw[blink] (b10a.west) -- ++(-9,0) |- (\c.east);
\foreach \c in {b10b1,b10b2} \draw[blink] (b10b.west) -- ++(-9,0) |- (\c.east);
\foreach \c in {b12a,b12b,b12c,b12d,b12e} \draw[blink] (b12.west) -- ++(-9,0) |- (\c.east);
\draw[blink] (b12e.west) -- (b12e1.east);

% ---------------- root connectors
\draw[oline, line width=1.4pt] (root.north) .. controls (1222,1300) and (1160,693) .. (o.east);
\draw[oline, line width=1.4pt] (root.north) .. controls (1222,1300) and (1280,703) .. (intro.west);
\draw[yline, line width=1.4pt] (root.north) .. controls (1222,2000) and (1290,1582) .. (y.west);
\draw[tline, line width=1.4pt] (root.west) .. controls (1092,2585) and (1092,2603) .. (t.east);
\draw[pline, line width=1.4pt] (root.south) .. controls (1222,3000) and (1290,3308) .. (p.west);
\draw[gline, line width=1.4pt] (root.south) .. controls (1222,3700) and (1290,4475) .. (g.west);
\draw[bline, line width=1.4pt] (root.south) .. controls (1222,3700) and (1160,4475) .. (b.east);

% watermarks
\foreach \wy in {490,1500,2520,3520,4520} {
  \node[wm] at (665,\wy) {树图 {\wmlat\fontsize{128}{128}\selectfont shutu.cn}};
  \node[wm] at (1945,\wy) {树图 {\wmlat\fontsize{128}{128}\selectfont shutu.cn}};
}
\end{tikzpicture}
\end{document}
